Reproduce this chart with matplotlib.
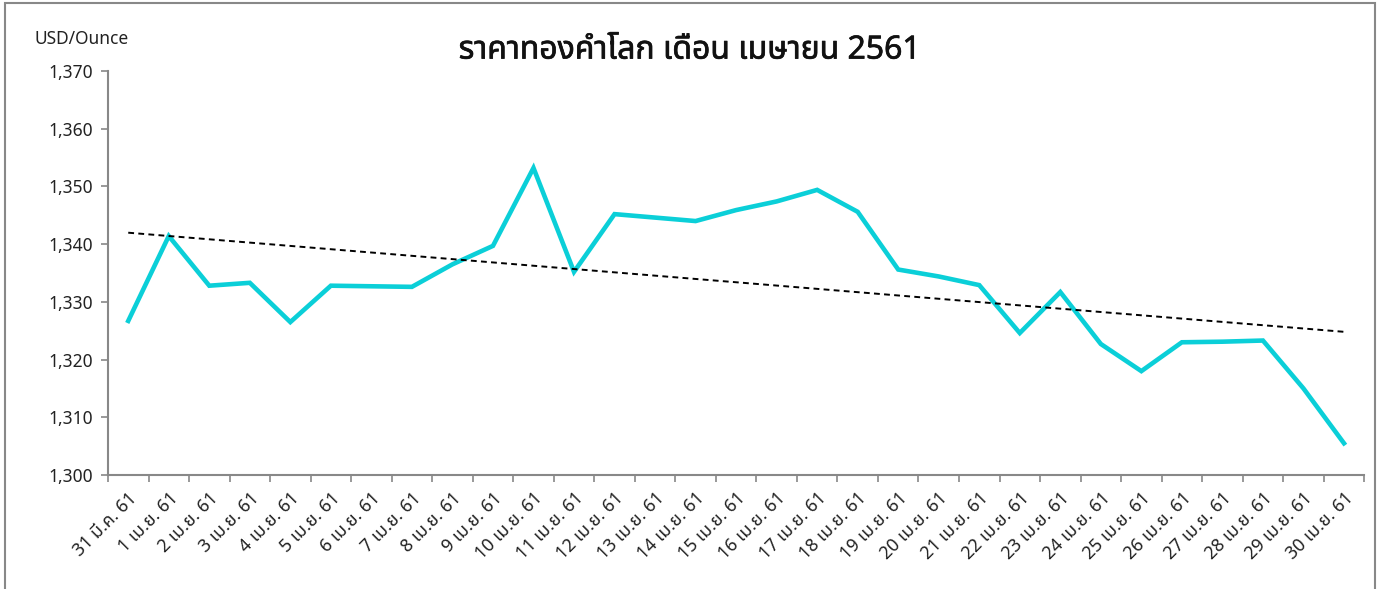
import numpy as np
import matplotlib
matplotlib.use("Agg")
import matplotlib.pyplot as plt
import matplotlib.patheffects as pe
from matplotlib import font_manager
from matplotlib.ft2font import FT2Font
from matplotlib.ticker import StrMethodFormatter, FixedLocator
from matplotlib.patches import Rectangle

# Data (USD/Ounce)
dates = ["31 มี.ค. 61"] + ["%d เม.ย. 61" % d for d in range(1, 31)]
prices = [
    1326.7, 1341.4, 1332.8, 1333.3, 1326.5, 1332.8, 1332.7, 1332.6, 1336.5, 1339.7,
    1353.2, 1335.2, 1345.2, 1344.6, 1344.0, 1345.9, 1347.4, 1349.4, 1345.6, 1335.6,
    1334.4, 1332.9, 1324.6, 1331.7, 1322.7, 1318.0, 1323.0, 1323.1, 1323.3, 1315.0,
    1305.5,
]
title = "ราคาทองคำโลก เดือน เมษายน 2561"
unit = "USD/Ounce"


# find any installed font with Thai glyphs
def find_thai_font():
    preferred = ["Tahoma", "Noto Sans Thai", "Loma", "Garuda", "Sarabun", "Kinnari"]
    found = []
    for f in font_manager.fontManager.ttflist:
        try:
            if 0x0E23 in FT2Font(f.fname).get_charmap():
                found.append(f.name)
        except Exception:
            pass
    for p in preferred:
        if p in found:
            return p
    return found[0] if found else None


thai = find_thai_font()
families = [thai, "DejaVu Sans"] if thai else ["DejaVu Sans"]
plt.rcParams["font.family"] = families

fig = plt.figure(figsize=(13.79, 5.89), dpi=100)
ax = fig.add_axes([0.0783, 0.1935, 0.911, 0.686])

x = np.arange(len(prices))
ax.plot(x, prices, color="#0BCFD8", linewidth=3.3, solid_joinstyle="miter")

# linear trend line
coef = np.polyfit(x, prices, 1)
ax.plot(x, np.polyval(coef, x), color="black", linewidth=1.4, linestyle=(0, (3, 2.2)))

ax.set_xlim(-0.5, len(prices) - 0.5)
ax.set_ylim(1300, 1370)
ax.set_yticks(np.arange(1300, 1371, 10))
ax.yaxis.set_major_formatter(StrMethodFormatter("{x:,.0f}"))

ax.set_xticks(x)
ax.set_xticklabels(dates, rotation=45, ha="right", rotation_mode="anchor")
ax.xaxis.set_minor_locator(FixedLocator(np.arange(-0.5, len(prices), 1.0)))
ax.tick_params(axis="x", which="major", length=0, pad=10, labelsize=12.8, colors="#222222")
ax.tick_params(axis="x", which="minor", length=5, width=1.2, color="#888888")
ax.tick_params(axis="y", length=5, width=1.2, color="#888888", labelsize=12.5,
               labelcolor="#222222", pad=6)

for side in ["top", "right"]:
    ax.spines[side].set_visible(False)
for side in ["left", "bottom"]:
    ax.spines[side].set_color("#888888")
    ax.spines[side].set_linewidth(1.5)

fig.text(0.025, 0.933, unit, fontsize=12.5, color="#222222", va="center", ha="left")
t = fig.text(0.5, 0.915, title, fontsize=23, fontweight="bold", color="#111111",
             va="center", ha="center")
t.set_path_effects([pe.withStroke(linewidth=0.5, foreground="#111111")])

# chart border
fig.patches.append(Rectangle((5 / 1379, -0.05), 1370 / 1379, 1.05 - 3 / 589,
                             transform=fig.transFigure, fill=False,
                             edgecolor="#888888", linewidth=1.5))

fig.savefig("out.png", dpi=100)
